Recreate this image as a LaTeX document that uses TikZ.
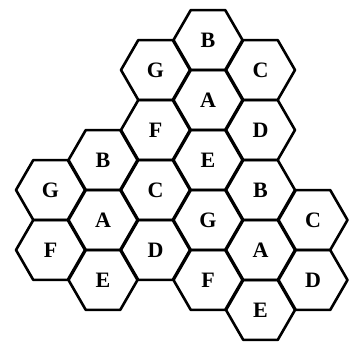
\documentclass[tikz,border=0pt]{standalone}
\usepackage{fontspec}
\setmainfont{Liberation Serif}
\usetikzlibrary{shapes.geometric}
\begin{document}
\begin{tikzpicture}[x=1pt,y=-1pt,
  cell/.style={regular polygon, regular polygon sides=6, minimum size=69pt,
    inner sep=0pt, outer sep=0pt, draw=black, line width=2.6pt, line join=round,
    font=\fontsize{22}{22}\selectfont\bfseries}]
\useasboundingbox (0,0) rectangle (361,342);
\foreach \n/\c/\y/\t in {1/0/40/B,2/0/100/A,3/0/160/E,4/0/220/G,5/0/280/F,
  6/1/70/C,7/1/130/D,8/1/190/B,9/1/250/A,10/1/310/E,
  11/-1/70/G,12/-1/130/F,13/-1/190/C,14/-1/250/D,
  15/-2/160/B,16/-2/220/A,17/-2/280/E,
  18/-3/190/G,19/-3/250/F,
  20/2/220/C,21/2/280/D}
  \node[cell] (h\n) at ({208+52.5*(\c)},\y) {\t};
\end{tikzpicture}
\end{document}
